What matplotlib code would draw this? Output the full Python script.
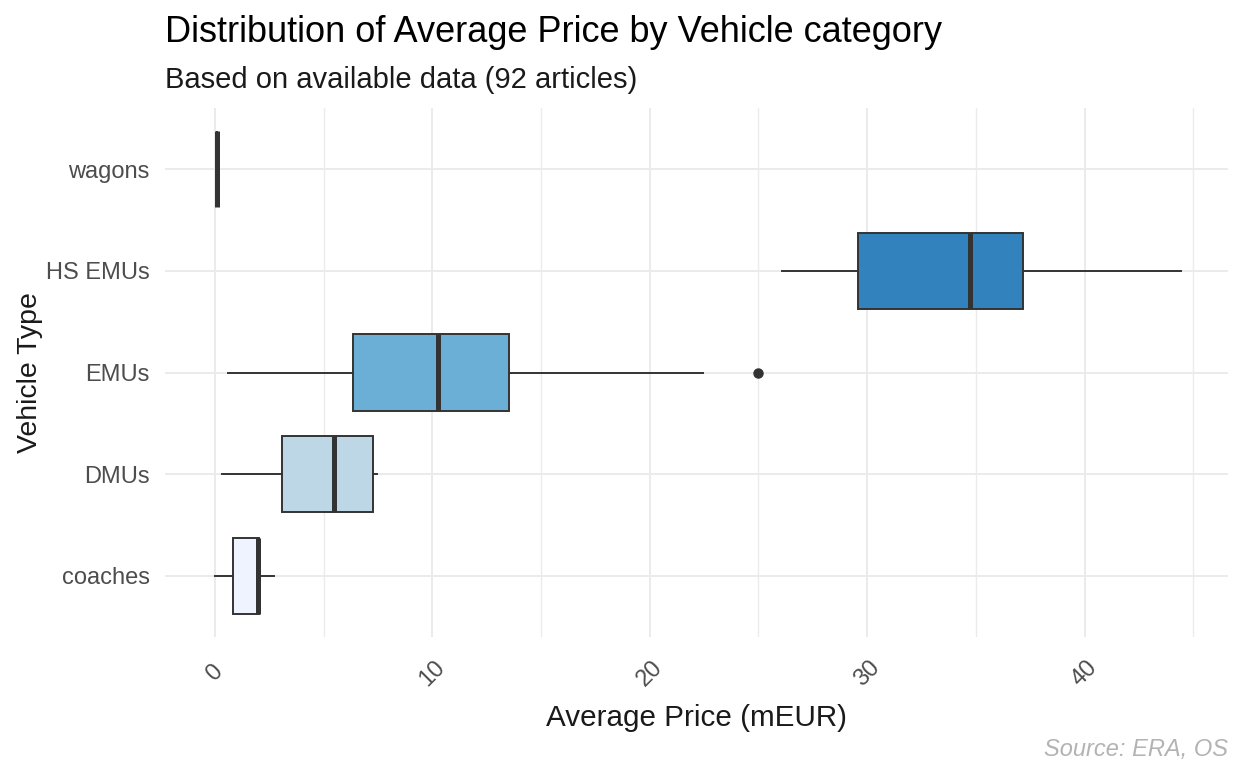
import matplotlib
matplotlib.use('Agg')
import matplotlib.pyplot as plt
from matplotlib.ticker import MultipleLocator

plt.rcParams['font.family'] = ['Liberation Sans', 'DejaVu Sans']

# ── Box statistics (mEUR) ──
categories = ["coaches", "DMUs", "EMUs", "HS EMUs", "wagons"]
whis_lo = [0.0, 0.34, 0.62, 26.07, 0.1]
q1 = [0.81, 3.10, 6.34, 29.57, 0.1]
median = [1.96, 5.47, 10.26, 34.72, 0.1]
q3 = [2.03, 7.26, 13.53, 37.16, 0.1]
whis_hi = [2.71, 7.47, 22.44, 44.45, 0.1]
outliers = [[], [], [25.0], [], []]
fills = ["#EFF3FF", "#BDD7E7", "#6BAED6", "#3182BD", "#08519C"]

stats = []
for i, cat in enumerate(categories):
    stats.append(dict(label=cat, whislo=whis_lo[i], q1=q1[i], med=median[i],
                      q3=q3[i], whishi=whis_hi[i], fliers=outliers[i]))

fig = plt.figure(figsize=(12.37, 7.62), dpi=100)
ax = fig.add_axes([165 / 1237, 1 - 637 / 762, (1228 - 165) / 1237, (637 - 108) / 762])

edge = '#333333'
bp = ax.bxp(stats, positions=range(1, len(categories) + 1), vert=False, widths=0.75,
            patch_artist=True, showcaps=False, showfliers=True,
            boxprops=dict(edgecolor=edge, linewidth=1.4),
            whiskerprops=dict(color=edge, linewidth=1.4),
            medianprops=dict(color=edge, linewidth=3.6, solid_capstyle='butt'),
            flierprops=dict(marker='o', markerfacecolor=edge, markeredgecolor=edge,
                            markersize=6.5))
for patch, c in zip(bp['boxes'], fills):
    patch.set_facecolor(c)

ax.set_xlim(-2.3, 46.6)
ax.set_ylim(0.4, len(categories) + 0.6)
ax.xaxis.set_major_locator(MultipleLocator(10))
ax.xaxis.set_minor_locator(MultipleLocator(5))
ax.set_yticks(range(1, len(categories) + 1))
ax.set_yticklabels(categories)

ax.grid(True, which='major', color='#EBEBEB', linewidth=1.4)
ax.grid(True, which='minor', axis='x', color='#EBEBEB', linewidth=1.0)
ax.set_axisbelow(True)
for s in ax.spines.values():
    s.set_visible(False)
ax.tick_params(which='both', length=0)
ax.tick_params(axis='y', labelsize=17, labelcolor='#4D4D4D', pad=11)
ax.tick_params(axis='x', labelsize=17, labelcolor='#4D4D4D', pad=26)
for lbl in ax.get_xticklabels():
    lbl.set_rotation(45)
    lbl.set_ha('center')
    lbl.set_va('center')

ax.set_xlabel('Average Price (mEUR)', fontsize=21.3, color='#1A1A1A', labelpad=10)
ax.set_ylabel('Vehicle Type', fontsize=20.5, color='#1A1A1A', labelpad=2)

fig.text(165 / 1237, 1 - 42 / 762, 'Distribution of Average Price by Vehicle category',
         fontsize=26, color='#000000', ha='left', va='baseline')
fig.text(165 / 1237, 1 - 88 / 762, 'Based on available data (92 articles)',
         fontsize=21, color='#1A1A1A', ha='left', va='baseline')
fig.text(1228 / 1237, 1 - 756 / 762, 'Source: ERA, OS', fontsize=17, color='#B3B3B3',
         style='italic', ha='right', va='baseline')

fig.savefig('out.png', dpi=100, facecolor='white')
